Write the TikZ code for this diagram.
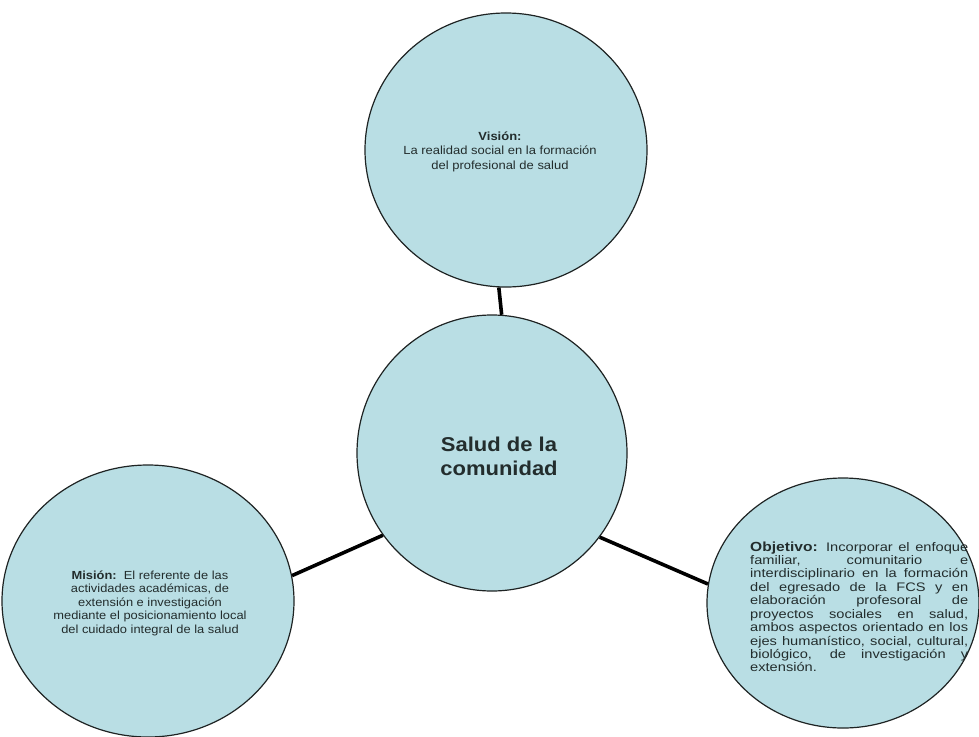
\documentclass[tikz,border=0pt]{standalone}
\usepackage{fontspec}
\setmainfont{Liberation Sans}
\newfontfamily\txtfont[FakeStretch=1.1]{Liberation Sans}
\newfontfamily\objfont[FakeStretch=1.18]{Liberation Sans}
\usetikzlibrary{shapes.geometric}
\definecolor{bubblefill}{RGB}{185,222,228}
\definecolor{ink}{RGB}{35,45,45}
\definecolor{rim}{RGB}{30,35,35}
\begin{document}
\begin{tikzpicture}[x=1pt,y=-1pt,
  bubble/.style={ellipse, draw=rim, line width=1.2pt, fill=bubblefill, inner sep=0pt},
  link/.style={line width=3.6pt, draw=black},
  txt/.style={text=ink, inner sep=0pt, align=center, font=\txtfont\fontsize{11.8}{14.5}\selectfont}]
\useasboundingbox (0,0) rectangle (979,736);
\node[bubble, minimum width=282pt, minimum height=274pt] (vis) at (506,150) {};
\node[bubble, minimum width=270pt, minimum height=276pt] (cen) at (492,453) {};
\node[bubble, minimum width=292pt, minimum height=272pt] (mis) at (148,601) {};
\node[bubble, minimum width=272pt, minimum height=250pt] (obj) at (843,603) {};
\draw[link] (vis.267.5) -- (cen.86.7);
\draw[link] (cen.217.5) -- (mis.10.5);
\draw[link] (cen.322.2) -- (obj.172.4);
\node[txt, anchor=base] (vistxt) at (500,169)
  {\textbf{Visión:}\\La realidad social en la formación\\del profesional de salud};
\node[txt, anchor=base, font=\txtfont\fontsize{11.7}{13.4}\selectfont] (mistxt) at (150,633)
  {\textbf{Misión:}\ \ El referente de las\\actividades académicas, de\\extensión e investigación\\mediante el posicionamiento local\\del cuidado integral de la salud};
\node[txt, anchor=base, font=\txtfont\bfseries\fontsize{20}{24}\selectfont] (centxt) at (499,475)
  {Salud de la\\comunidad};
\node[anchor=base west, inner sep=0pt, text=ink] (objtxt) at (750,551)
  {\parbox[t]{218pt}{\objfont\fontsize{12.4}{13.44}\selectfont
   \tolerance=10000\hyphenpenalty=10000\parindent=0pt
   {\fontsize{13.2}{13.44}\selectfont\textbf{Objetivo:}} Incorporar el enfoque\linebreak
   familiar, comunitario e\linebreak
   interdisciplinario en la formación\linebreak
   del egresado de la FCS y en\linebreak
   elaboración profesoral de\linebreak
   proyectos sociales en salud,\linebreak
   ambos aspectos orientado en los\linebreak
   ejes humanístico, social, cultural,\linebreak
   biológico, de investigación y\linebreak
   extensión.}};
\end{tikzpicture}
\end{document}
